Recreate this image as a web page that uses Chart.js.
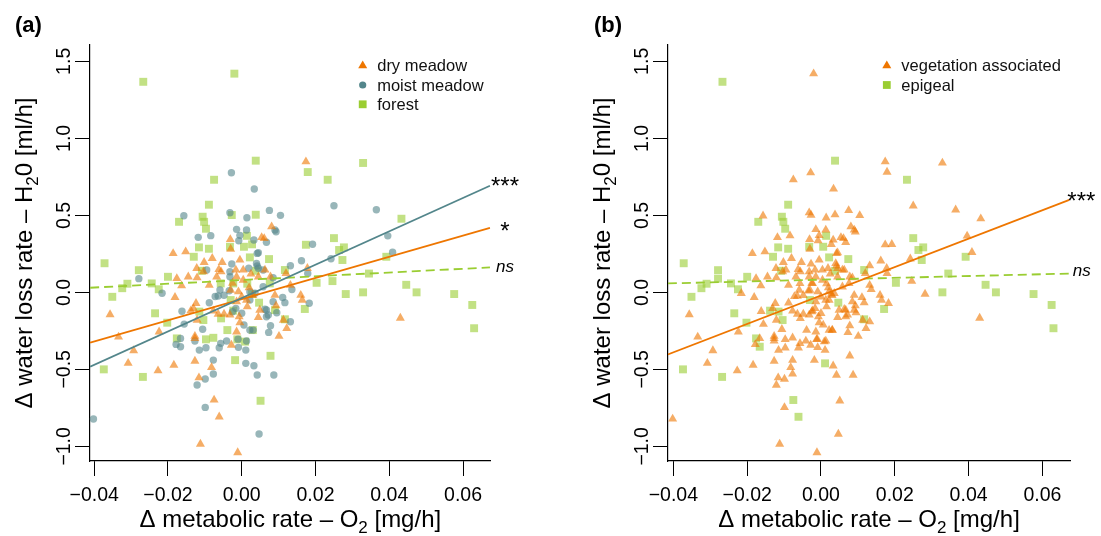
<!DOCTYPE html>
<html>
<head>
<meta charset="utf-8">
<script src="https://cdn.jsdelivr.net/npm/chart.js@4.4.0/dist/chart.umd.min.js"></script>
<style>
  body { margin: 0; background: #fff; }
  #wrap { position: relative; width: 1101px; height: 536px; }
  canvas { position: absolute; top: 0; }
</style>
</head>
<body>
<div id="wrap">
  <canvas id="chartA" width="550" height="536" style="left:0"></canvas>
  <canvas id="chartB" width="551" height="536" style="left:550px"></canvas>
</div>
<script>
// axis ticks
const xTicks = [-0.04, -0.02, 0, 0.02, 0.04, 0.06];
const xTickLabels = ['−0.04', '−0.02', '0.00', '0.02', '0.04', '0.06'];
const yTicks = [-1, -0.5, 0, 0.5, 1, 1.5];
const yTickLabels = ['−1.0', '−0.5', '0.0', '0.5', '1.0', '1.5'];

// points: [delta metabolic rate, delta water loss rate]
// split by habitat (panel a) and by life habit (panel b)
const dryVeg = [
  [0.0174, 0.848], [0.0081, 0.426], [0.0054, 0.357], [0.0061, 0.35], [-0.0031, 0.344],
  [-0.0030, 0.281], [-0.0186, 0.253], [-0.0152, 0.264], [-0.0080, 0.221], [-0.0102, 0.195],
  [-0.0053, 0.195], [-0.0005, 0.21], [-0.0122, 0.156], [-0.0062, 0.149], [-0.0056, 0.134],
  [-0.0176, 0.091], [-0.0145, 0.101], [-0.0121, 0.095], [-0.0163, 0.043], [-0.0088, 0.047],
  [0.0178, 0.156], [0.0120, 0.123], [0.0063, 0.145], [0.0045, 0.101], [0.0078, 0.101],
  [0.0132, 0.047], [-0.0181, -0.032], [-0.0124, -0.071], [-0.0131, -0.104], [-0.0121, -0.18],
  [-0.0077, -0.121], [-0.0064, -0.141], [-0.0048, -0.141], [-0.0032, -0.147], [-0.0224, -0.256],
  [-0.0127, -0.284], [-0.0127, -0.299], [-0.0028, -0.342], [-0.0014, -0.256], [-0.0005, -0.197],
  [-0.0127, -0.446], [-0.0184, -0.472], [-0.0227, -0.509], [-0.0082, -0.487], [-0.0116, -0.554],
  [-0.0112, -0.985], [-0.0011, -1.04], [0.009, -0.018], [0.016, -0.018], [0.0164, -0.05],
  [0.0093, -0.087], [0.0045, -0.162], [0.0113, -0.18], [0.0122, -0.234], [0.0101, -0.284],
  [-0.0357, -0.144], [-0.0334, -0.289], [-0.0293, -0.378], [-0.0308, -0.46], [0.043, -0.167],
  [-0.0016, 0.145], [0.0004, 0.145], [-0.0014, 0.101], [0.0004, 0.08], [-0.003, 0.015],
  [-0.0009, 0.004], [0.0, -0.029], [-0.0014, -0.061], [0.0013, -0.05], [0.0049, -0.115],
  [0.0015, -0.093], [-0.0007, -0.158], [-0.0068, 0.101], [-0.0104, 0.134], [0.0025, 0.12],
  [-0.0025, 0.06], [0.002, 0.03], [0.003, -0.02]
];
const dryEpi = [[-0.0075, -0.699], [-0.0061, -0.808], [-0.0138, -0.119]];

const moistVeg = [
  [-0.0028, 0.777], [0.0034, 0.671], [-0.0157, 0.497], [-0.0032, 0.517], [0.0014, 0.484],
  [-0.0118, 0.357], [-0.0084, 0.368], [-0.0014, 0.409], [0.0013, 0.405], [-0.0005, 0.37],
  [-0.0008, 0.335], [0.0033, 0.34], [0.0042, 0.253], [-0.0027, 0.184], [0.0019, 0.156],
  [-0.0032, 0.134], [0.0075, 0.532], [0.0105, 0.5], [0.0250, 0.562], [0.009, 0.405],
  [0.0093, 0.393], [0.0067, 0.325], [0.0045, 0.257], [0.0192, 0.312], [0.0242, 0.218],
  [0.0162, 0.205], [0.0132, 0.173], [0.0179, 0.123], [0.0042, 0.171], [0.0058, 0.145],
  [0.0085, 0.095], [0.0058, 0.036], [0.0365, 0.536], [0.0396, 0.367], [0.0409, 0.26],
  [-0.0402, -0.822], [-0.0216, -0.006], [-0.0064, -0.024], [-0.0048, -0.019], [-0.0088, -0.068],
  [-0.0162, -0.123], [-0.0156, -0.206], [-0.0106, -0.24], [-0.0127, -0.316], [-0.0166, -0.299],
  [-0.0178, -0.338], [-0.0115, -0.375], [-0.0097, -0.36], [-0.0061, -0.36], [-0.0057, -0.331],
  [-0.0041, -0.316], [-0.0009, -0.357], [0.0013, -0.316], [0.0011, -0.375], [0.0006, -0.212],
  [0.0022, -0.245], [-0.0077, -0.44], [0.0033, -0.477], [-0.0077, -0.53], [-0.0099, -0.563],
  [-0.0121, -0.602], [0.0042, -0.537], [-0.0099, -0.747], [0.0047, -0.92], [0.0136, 0.019],
  [0.0183, -0.071], [0.0117, -0.067], [0.0063, -0.11], [0.0072, -0.147], [0.0095, -0.132],
  [0.0132, -0.191], [0.0078, -0.217], [0.0073, -0.26], [0.0031, -0.245], [0.0087, -0.537],
  [-0.0032, 0.101], [-0.0034, 0.01], [0.0022, 0.004], [0.0022, -0.05], [0.0036, -0.006],
  [0.004, 0.188], [0.0045, 0.156], [0.0085, -0.061], [0.0067, -0.115], [0.0067, -0.158],
  [-0.0016, -0.104], [0.0, -0.136], [-0.0025, -0.126], [-0.0059, 0.015], [-0.0095, 0.145],
  [-0.0072, -0.027], [0.0111, -0.033], [-0.001, -0.304]
];
const moistEpi = [[-0.0279, 0.089], [-0.0166, -0.353], [0.0011, -0.461]];

const forestVeg = [
  [-0.0020, 1.42], [0.0179, 0.781], [0.0329, 0.84], [-0.0075, 0.731], [-0.0027, 0.502],
  [0.0038, 0.504], [0.0028, 0.312], [0.0174, 0.309], [0.0433, 0.478], [0.0246, 0.073],
  [0.0282, -0.011], [-0.0097, -0.305], [-0.0077, -0.295], [-0.0056, -0.169], [-0.0023, -0.119],
  [-0.0039, -0.245], [-0.0012, -0.305], [0.003, -0.245], [-0.0018, -0.44], [0.0078, -0.412],
  [0.0051, -0.704], [-0.0023, 0.058], [-0.0057, 0.058], [0.0076, 0.058], [0.009, -0.115],
  [0.0028, -0.011], [0.0015, 0.056], [0.0009, -0.32]
];
const forestEpi = [
  [-0.0267, 1.367], [0.0038, 0.855], [0.0233, 0.731], [-0.0089, 0.569], [-0.0170, 0.458],
  [-0.0106, 0.491], [-0.0102, 0.458], [-0.0097, 0.413], [-0.0116, 0.292], [-0.0089, 0.283],
  [-0.0130, 0.231], [-0.0032, 0.296], [0.0006, 0.296], [0.0014, 0.367], [0.0022, 0.227],
  [0.0074, 0.216], [0.0250, 0.352], [0.0264, 0.275], [0.0277, 0.292], [0.0273, 0.21],
  [0.0392, 0.231], [0.0345, 0.122], [0.0446, 0.049], [0.0474, 0.0], [0.0576, -0.011],
  [0.0625, -0.082], [0.0630, -0.233], [0.0329, 0.0], [0.0203, 0.062], [0.0171, -0.108],
  [0.0117, 0.145], [0.0117, -0.175], [-0.0372, 0.189], [-0.0279, 0.144], [-0.0200, 0.101],
  [-0.0244, 0.058], [-0.0225, 0.02], [-0.0310, 0.056], [-0.0324, 0.027], [-0.0351, -0.029],
  [-0.0235, -0.136], [-0.0202, -0.197], [-0.0374, -0.5], [-0.0268, -0.549], [-0.0176, -0.299],
  [-0.0104, -0.18], [-0.0108, 0.14], [0.0038, 0.14], [-0.003, -0.05], [-0.0115, -0.125],
  [0.0047, -0.067]
];

// fitted lines: y at the two x ends
const fitXA = [-0.0411, 0.0673];
const dryFit = [-0.327, 0.419];
const moistFit = [-0.483, 0.692];
const forestFit = [0.030, 0.162];
const fitXB = [-0.0415, 0.0673];
const vegFit = [-0.403, 0.600];
const epiFit = [0.058, 0.122];

const ORANGE = '#EE7600', TEAL = '#53868B', GREEN = '#9ACD32';
const alpha = (hex, a) => {
  const n = parseInt(hex.slice(1), 16);
  return `rgba(${n >> 16},${(n >> 8) & 255},${n & 255},${a})`;
};
const FONT = '"Liberation Sans", Arial, Helvetica, sans-serif';

const pts = arr => arr.map(([x, y]) => ({ x, y }));
const line = (xs, ys) => xs.map((x, i) => ({ x, y: ys[i] }));

function pointSet(label, data, style, color, radius) {
  return {
    label, data: pts(data), pointStyle: style, pointRadius: radius, pointHoverRadius: radius,
    backgroundColor: alpha(color, 0.6), borderWidth: 0, clip: false
  };
}
function fitSet(data, color, dashed) {
  return {
    data, showLine: true, pointRadius: 0, borderColor: color, backgroundColor: color,
    borderWidth: 1.8, borderDash: dashed ? [9, 5] : [], fill: false
  };
}

function drawMarker(ctx, style, x, y, color) {
  ctx.fillStyle = color;
  ctx.beginPath();
  if (style === 'triangle') {
    const r = 5.2;
    ctx.moveTo(x, y - r);
    ctx.lineTo(x + r * 0.866, y + r / 2);
    ctx.lineTo(x - r * 0.866, y + r / 2);
    ctx.closePath();
  } else if (style === 'circle') {
    ctx.arc(x, y, 3.6, 0, Math.PI * 2);
  } else {
    ctx.rect(x - 3.9, y - 3.9, 7.8, 7.8);
  }
  ctx.fill();
}

// text with a subscript piece, centred on x
function drawRich(ctx, parts, size, x, y) {
  const big = size + 'px ' + FONT;
  const small = Math.round(size * 0.72) + 'px ' + FONT;
  let w = 0;
  parts.forEach(([t, sub]) => { ctx.font = sub ? small : big; w += ctx.measureText(t).width; });
  let cx = x - w / 2;
  ctx.textAlign = 'left';
  parts.forEach(([t, sub]) => {
    ctx.font = sub ? small : big;
    ctx.fillText(t, cx, sub ? y + size * 0.27 : y);
    cx += ctx.measureText(t).width;
  });
}

const xTitle = [['Δ metabolic rate – O'], ['2', true], [' [mg/h]']];
const yTitle = [['Δ water loss rate – H'], ['2', true], ['0 [ml/h]']];

function rPlugin(p) {
  return {
    id: 'rstyle',
    afterDraw(chart) {
      const { ctx, chartArea: a, scales: { x, y } } = chart;
      ctx.save();
      ctx.fillStyle = '#000';
      // tick labels
      ctx.font = '19.5px ' + FONT;
      ctx.textAlign = 'center';
      ctx.textBaseline = 'alphabetic';
      xTicks.forEach((v, i) => ctx.fillText(xTickLabels[i], x.getPixelForValue(v), a.bottom + 40));
      yTicks.forEach((v, i) => {
        ctx.save();
        ctx.translate(a.left - 20, y.getPixelForValue(v));
        ctx.rotate(-Math.PI / 2);
        ctx.fillText(yTickLabels[i], 0, 0);
        ctx.restore();
      });
      // axis titles
      drawRich(ctx, xTitle, 24, (a.left + a.right) / 2, 527);
      ctx.save();
      ctx.translate(a.left - 58, (a.top + a.bottom) / 2);
      ctx.rotate(-Math.PI / 2);
      drawRich(ctx, yTitle, 24, 0, 0);
      ctx.restore();
      // panel letter
      ctx.font = 'bold 22px ' + FONT;
      ctx.textAlign = 'left';
      ctx.textBaseline = 'middle';
      ctx.fillText(p.letter, p.letterX, 26);
      // legend
      ctx.font = '16.5px ' + FONT;
      p.legend.forEach((item, i) => {
        const ly = 65.7 + i * 19.3;
        drawMarker(ctx, item.style, p.legendX, ly, item.color);
        ctx.fillStyle = '#111';
        ctx.fillText(item.text, p.legendX + 14.5, ly + 1);
      });
      // significance labels at the end of the fitted lines
      ctx.fillStyle = '#000';
      ctx.textAlign = 'center';
      ctx.textBaseline = 'alphabetic';
      p.marks.forEach(m => {
        ctx.font = (m.italic ? 'italic ' : '') + m.size + 'px ' + FONT;
        ctx.fillText(m.text, x.getPixelForValue(m.at[0]) + m.dx, y.getPixelForValue(m.at[1]) + m.dy);
      });
      ctx.restore();
    }
  };
}

function makeChart(id, datasets, xMin, xMax, padRight, p) {
  const axisCommon = {
    type: 'linear',
    grid: { display: true, drawOnChartArea: false, drawTicks: true, tickLength: 15, color: '#000', lineWidth: 1 },
    border: { display: true, color: '#000', width: 1.2 },
    ticks: { display: false }
  };
  return new Chart(document.getElementById(id), {
    type: 'scatter',
    data: { datasets },
    options: {
      responsive: false,
      animation: false,
      layout: { padding: { left: 0, right: padRight, top: 45, bottom: 0 } },
      plugins: { legend: { display: false }, tooltip: { enabled: false } },
      scales: {
        x: Object.assign({}, axisCommon, {
          min: xMin, max: xMax,
          afterBuildTicks: s => { s.ticks = xTicks.map(v => ({ value: v })); },
          afterFit: s => { s.height = 75; }
        }),
        y: Object.assign({}, axisCommon, {
          min: -1.095, max: 1.606,
          afterBuildTicks: s => { s.ticks = yTicks.map(v => ({ value: v })); },
          afterFit: s => { s.width = p.axisLeft; }
        })
      }
    },
    plugins: [rPlugin(p)]
  });
}

// panel (a): habitat
makeChart('chartA', [
  fitSet(line(fitXA, moistFit), TEAL, false),
  fitSet(line(fitXA, dryFit), ORANGE, false),
  fitSet(line(fitXA, forestFit), GREEN, true),
  pointSet('dry meadow', [...dryVeg, ...dryEpi], 'triangle', ORANGE, 5.2),
  pointSet('moist meadow', [...moistVeg, ...moistEpi], 'circle', TEAL, 3.7),
  pointSet('forest', [...forestVeg, ...forestEpi], 'rect', GREEN, 5.6)
], -0.04114, 0.0675, 59.3, {
  letter: '(a)', letterX: 15, axisLeft: 90, legendX: 362.7,
  legend: [
    { text: 'dry meadow', style: 'triangle', color: ORANGE },
    { text: 'moist meadow', style: 'circle', color: TEAL },
    { text: 'forest', style: 'rect', color: GREEN }
  ],
  marks: [
    { text: '***', at: [fitXA[1], moistFit[1]], dx: 15, dy: 8.3, size: 24 },
    { text: '*', at: [fitXA[1], dryFit[1]], dx: 15, dy: 11.3, size: 24 },
    { text: 'ns', at: [fitXA[1], forestFit[1]], dx: 15, dy: 4.4, size: 17, italic: true }
  ]
});

// panel (b): life habit
makeChart('chartB', [
  fitSet(line(fitXB, vegFit), ORANGE, false),
  fitSet(line(fitXB, epiFit), GREEN, true),
  pointSet('vegetation associated', [...dryVeg, ...moistVeg, ...forestVeg], 'triangle', ORANGE, 5.2),
  pointSet('epigeal', [...dryEpi, ...moistEpi, ...forestEpi], 'rect', GREEN, 5.6)
], -0.04146, 0.06748, 31, {
  letter: '(b)', letterX: 44, axisLeft: 118, legendX: 336.8,
  legend: [
    { text: 'vegetation associated', style: 'triangle', color: ORANGE },
    { text: 'epigeal', style: 'rect', color: GREEN }
  ],
  marks: [
    { text: '***', at: [fitXB[1], vegFit[1]], dx: 12, dy: 9, size: 24 },
    { text: 'ns', at: [fitXB[1], epiFit[1]], dx: 12.5, dy: 2, size: 17, italic: true }
  ]
});
</script>
</body>
</html>
